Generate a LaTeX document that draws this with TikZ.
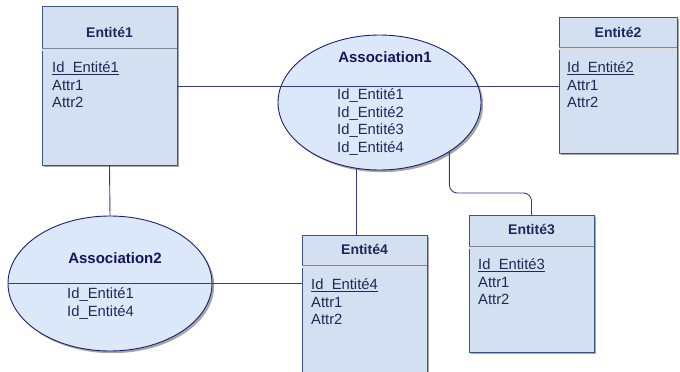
\documentclass[tikz,border=0pt]{standalone}
\usepackage{fontspec}
\setmainfont{Liberation Sans}
\usetikzlibrary{shapes.geometric,shadows}

\definecolor{boxfill}{HTML}{D3E0F2}
\definecolor{ellfill}{HTML}{DAE8FA}
\definecolor{boxline}{HTML}{3A5585}
\definecolor{ellline}{HTML}{1F1F70}
\definecolor{linkcol}{HTML}{3A3A8C}
\definecolor{titlecol}{HTML}{1B2A5E}
\definecolor{asstitle}{HTML}{15155E}
\definecolor{bodycol}{HTML}{1E2A55}

% identifier underline, set close to the baseline
\newcommand\keyattr[1]{\setbox0\hbox{#1}\rlap{\rule[-2.2pt]{\wd0}{1pt}}\box0}

\tikzset{
  shade/.style={drop shadow={shadow xshift=2.2pt, shadow yshift=-2.2pt, fill=black, opacity=0.35}},
  entity/.style={rectangle, draw=boxline, line width=1pt, fill=boxfill, shade,
                 inner sep=0pt, outer sep=0pt},
  assoc/.style={ellipse, draw=ellline, line width=0.9pt, fill=ellfill, shade,
                inner sep=0pt, outer sep=0pt},
  sepline/.style={draw=white!88!black, line width=2pt},
  sepedge/.style={draw=boxline!70, line width=0.5pt},
  etitle/.style={font=\fontsize{14}{16}\selectfont\bfseries, text=titlecol, inner sep=0pt},
  atitle/.style={font=\fontsize{15}{17}\selectfont\bfseries, text=asstitle, inner sep=0pt},
  attrs/.style={font=\fontsize{14.8}{17.5}\selectfont, text=bodycol, align=left,
                inner sep=0pt, anchor=north west},
  link/.style={draw=linkcol, line width=0.9pt},
}

\begin{document}
\begin{tikzpicture}[x=1pt, y=-1pt]
\useasboundingbox (0,0) rectangle (680,372);
\clip (0,0) rectangle (680,372);

% entities
\node[entity, minimum width=135pt, minimum height=159pt] (e1) at (109.5,85.5) {};
\node[entity, minimum width=118pt, minimum height=136pt] (e2) at (618,85) {};
\node[entity, minimum width=125pt, minimum height=137pt] (e3) at (531.5,283.5) {};
\node[entity, minimum width=125pt, minimum height=145pt] (e4) at (364.5,307.5) {};

% header separators
\draw[sepline] (e1.west |- 0,50) -- (e1.east |- 0,50);
\draw[sepedge] (e1.west |- 0,48.6) -- (e1.east |- 0,48.6);
\draw[sepline] (e2.west |- 0,49) -- (e2.east |- 0,49);
\draw[sepedge] (e2.west |- 0,47.6) -- (e2.east |- 0,47.6);
\draw[sepline] (e3.west |- 0,248) -- (e3.east |- 0,248);
\draw[sepedge] (e3.west |- 0,246.6) -- (e3.east |- 0,246.6);
\draw[sepline] (e4.west |- 0,267) -- (e4.east |- 0,267);
\draw[sepedge] (e4.west |- 0,265.6) -- (e4.east |- 0,265.6);

% entity titles
\node[etitle] (e1t) at (e1.north |- 0,32) {Entité1};
\node[etitle] (e2t) at (e2.north |- 0,32) {Entité2};
\node[etitle] (e3t) at (e3.north |- 0,229) {Entité3};
\node[etitle] (e4t) at (e4.north |- 0,249) {Entité4};

% entity attributes
\node[attrs] (e1a) at (52,61.5) {\keyattr{Id\_Entité1}\\Attr1\\Attr2};
\node[attrs] (e2a) at (567,61.5) {\keyattr{Id\_Entité2}\\Attr1\\Attr2};
\node[attrs] (e3a) at (478,258.5) {\keyattr{Id\_Entité3}\\Attr1\\Attr2};
\node[attrs] (e4a) at (311,278.5) {\keyattr{Id\_Entité4}\\Attr1\\Attr2};

% associations
\node[assoc, minimum width=203pt, minimum height=135pt] (a1) at (379.5,102.5) {};
\node[assoc, minimum width=204pt, minimum height=135pt] (a2) at (110,283.5) {};

\node[atitle] (a1t) at (385,57) {Association1};
\node[attrs] (a1a) at (337,88.5) {Id\_Entité1\\Id\_Entité2\\Id\_Entité3\\Id\_Entité4};
\node[atitle] (a2t) at (115,258) {Association2};
\node[attrs] (a2a) at (67,287.5) {Id\_Entité1\\Id\_Entité4};

% connectors
\draw[link] (e1.east |- 0,86) -- (e2.west |- 0,86);
\draw[link] (a2.west) -- (a2.west -| e4.west);
\draw[link] (e1.south) -- (a2.north);
\draw[link] (a1.251) -- (a1.251 |- e4.north);
\draw[link, rounded corners=8pt] (a1.325) -- (a1.325 |- 0,193) -- (e3.north |- 0,193) -- (e3.north);
\end{tikzpicture}
\end{document}
